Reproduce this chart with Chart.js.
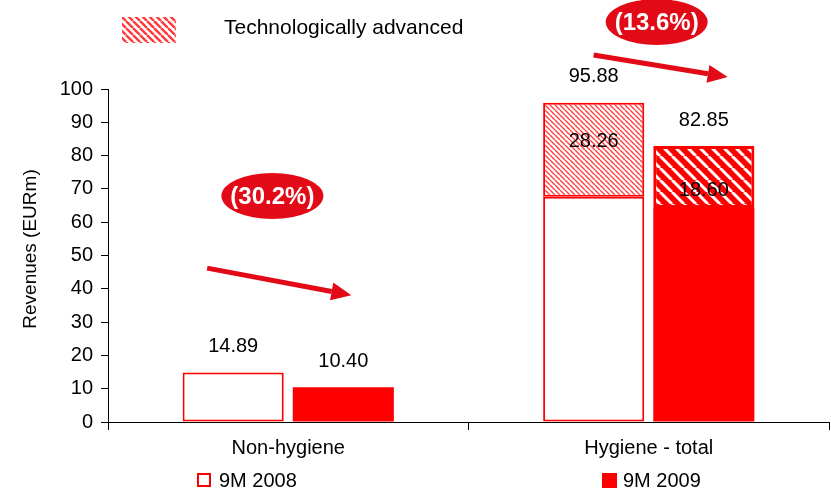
<!DOCTYPE html>
<html>
<head>
<meta charset="utf-8">
<script src="https://cdn.jsdelivr.net/npm/chart.js@4.4.1/dist/chart.umd.min.js"></script>
<style>
  html, body { margin: 0; padding: 0; background: #fff; }
  #wrap { width: 831px; height: 492px; position: relative; }
</style>
</head>
<body>
<div id="wrap"><canvas id="c" width="831" height="492"></canvas></div>
<script>
// Revenues by segment, EUR million
const categories = ['Non-hygiene', 'Hygiene - total'];
const total2008 = [14.89, 95.88];
const total2009 = [10.40, 82.85];
const tech2008 = [null, 28.26];   // technologically advanced share
const tech2009 = [null, 18.60];
const changeLabels = ['(30.2%)', '(13.6%)'];
const seriesNames = ['9M 2008', '9M 2009'];
const techName = 'Technologically advanced';
const yTickValues = [0, 10, 20, 30, 40, 50, 60, 70, 80, 90, 100];

const base2008 = total2008.map((t, i) => +(t - (tech2008[i] || 0)).toFixed(2));
const base2009 = total2009.map((t, i) => +(t - (tech2009[i] || 0)).toFixed(2));

const FONT = '"Liberation Sans", Arial, sans-serif';
const RED = '#ff0000';
const DARK_RED = '#e30a17';

// diagonal stripe tile ("\" direction)
function stripes(size, bg, fg, width) {
  const c = document.createElement('canvas');
  c.width = size; c.height = size;
  const g = c.getContext('2d');
  g.fillStyle = bg; g.fillRect(0, 0, size, size);
  g.strokeStyle = fg; g.lineWidth = width;
  g.beginPath();
  for (let k = -1; k <= 1; k++) { g.moveTo(k * size, 0); g.lineTo(k * size + size, size); }
  g.stroke();
  return c;
}

const ctx = document.getElementById('c').getContext('2d');
const lightHatch = ctx.createPattern(stripes(5, '#fff', '#ff4040', 1.4), 'repeat');
const redHatch = ctx.createPattern(stripes(12, RED, '#fff', 3), 'repeat');
const legendHatch = ctx.createPattern(stripes(7, '#fff', '#ff3a3a', 2.4), 'repeat');

// Decorations: value labels, change bubbles with arrows, legends, axis title
const decorations = {
  id: 'decorations',
  afterDatasetsDraw(chart) {
    const c = chart.ctx;
    const xs = chart.scales.x, ys = chart.scales.y;
    const m = chart.data.datasets.map((d, i) => chart.getDatasetMeta(i));

    c.save();
    c.fillStyle = '#000';
    c.font = '20px ' + FONT;
    c.textAlign = 'center';
    c.textBaseline = 'middle';

    // totals above each bar, tech shares inside the hatched part
    const totals = [total2008, total2009];
    const techs = [tech2008, tech2009];
    const baseMeta = [m[0], m[2]], techMeta = [m[1], m[3]];
    const techOffsets = [39, 44];
    for (let s = 0; s < 2; s++) {
      for (let i = 0; i < categories.length; i++) {
        const hasTech = techs[s][i] != null;
        const el = hasTech ? techMeta[s].data[i] : baseMeta[s].data[i];
        c.fillText(totals[s][i].toFixed(2), el.x, el.y - 26);
        if (hasTech) {
          c.fillText(techs[s][i].toFixed(2), el.x, el.y + techOffsets[s]);
        }
      }
    }

    // change bubbles and arrows (positioned in axis units)
    const bubbles = [
      { cx: -0.044, cy: 67.9, from: [-0.225, 46.2], to: [0.175, 38.1] },
      { cx: 1.022, cy: 120.1, from: [0.847, 110.2], to: [1.219, 103.6] }
    ];
    bubbles.forEach((b, i) => {
      const px = xs.getPixelForValue(b.cx), py = ys.getPixelForValue(b.cy);
      c.fillStyle = DARK_RED;
      c.beginPath();
      c.ellipse(px, py, 51, 23, 0, 0, Math.PI * 2);
      c.fill();
      c.fillStyle = '#fff';
      c.font = 'bold 24px ' + FONT;
      c.fillText(changeLabels[i], px, py + 1);

      const x1 = xs.getPixelForValue(b.from[0]), y1 = ys.getPixelForValue(b.from[1]);
      const x2 = xs.getPixelForValue(b.to[0]), y2 = ys.getPixelForValue(b.to[1]);
      const ang = Math.atan2(y2 - y1, x2 - x1);
      const headLen = 20, headHalf = 9;
      const bx = x2 - headLen * Math.cos(ang), by = y2 - headLen * Math.sin(ang);
      c.strokeStyle = DARK_RED; c.lineWidth = 5; c.lineCap = 'butt';
      c.beginPath(); c.moveTo(x1, y1); c.lineTo(bx, by); c.stroke();
      c.fillStyle = DARK_RED;
      c.beginPath();
      c.moveTo(x2, y2);
      c.lineTo(bx + headHalf * Math.sin(ang), by - headHalf * Math.cos(ang));
      c.lineTo(bx - headHalf * Math.sin(ang), by + headHalf * Math.cos(ang));
      c.closePath(); c.fill();
    });

    // top legend: hatched swatch
    c.fillStyle = legendHatch;
    c.fillRect(122, 17, 54, 26);
    c.fillStyle = '#000';
    c.font = '21px ' + FONT;
    c.textAlign = 'left';
    c.fillText(techName, 224, 28);

    // bottom legend
    c.font = '20px ' + FONT;
    c.fillStyle = '#fff';
    c.fillRect(198, 474, 12, 12);
    c.strokeStyle = RED; c.lineWidth = 2;
    c.strokeRect(198, 474, 12, 12);
    c.fillStyle = '#000';
    c.fillText(seriesNames[0], 219, 481);
    c.fillStyle = RED;
    c.fillRect(602, 473, 15, 15);
    c.fillStyle = '#000';
    c.fillText(seriesNames[1], 623, 481);

    // y-axis title
    c.save();
    c.translate(31, 249);
    c.rotate(-Math.PI / 2);
    c.textAlign = 'center';
    c.font = '19px ' + FONT;
    c.fillText('Revenues (EURm)', 0, 0);
    c.restore();

    c.restore();
  }
};

new Chart(ctx, {
  type: 'bar',
  data: {
    labels: categories,
    datasets: [
      { label: seriesNames[0], stack: 's2008', data: base2008, backgroundColor: '#fff',
        borderColor: RED, borderWidth: 2, borderSkipped: false },
      { label: techName + ' 2008', stack: 's2008', data: tech2008, backgroundColor: lightHatch,
        borderColor: RED, borderWidth: 2, borderSkipped: false },
      { label: seriesNames[1], stack: 's2009', data: base2009, backgroundColor: RED,
        borderWidth: 0 },
      { label: techName + ' 2009', stack: 's2009', data: tech2009, backgroundColor: redHatch,
        borderColor: RED, borderWidth: 3, borderSkipped: false }
    ]
  },
  options: {
    responsive: false,
    animation: false,
    devicePixelRatio: 1,
    categoryPercentage: 0.611,
    barPercentage: 0.918,
    layout: { padding: { left: 0, right: 2, top: 89, bottom: 0 } },
    plugins: { legend: { display: false }, tooltip: { enabled: false } },
    scales: {
      x: {
        offset: true,
        grid: { offset: true, drawOnChartArea: false, drawTicks: true, tickLength: 8, color: '#000' },
        border: { color: '#000', width: 1 },
        ticks: { color: '#000', font: { family: FONT, size: 20 }, padding: 6 },
        afterFit(s) { s.height = 70; }
      },
      y: {
        stacked: true,
        min: 0, max: 100,
        afterBuildTicks(s) { s.ticks = yTickValues.map(v => ({ value: v })); },
        grid: { drawOnChartArea: false, drawTicks: true, tickLength: 7, color: '#000' },
        border: { color: '#000', width: 1 },
        ticks: { color: '#000', font: { family: FONT, size: 20 }, padding: 8 },
        afterFit(s) { s.width = 108; }
      }
    }
  },
  plugins: [decorations]
});
</script>
</body>
</html>
